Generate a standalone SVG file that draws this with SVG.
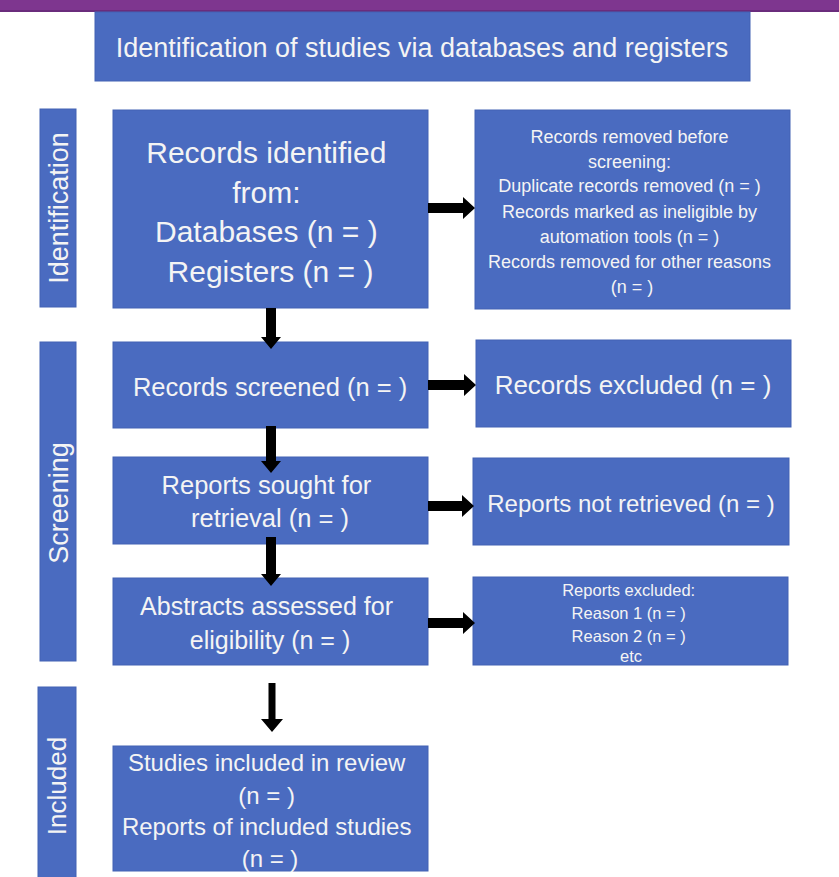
<svg xmlns="http://www.w3.org/2000/svg" width="839" height="877" viewBox="0 0 839 877">
  <style>
    .box { fill: #4A6BC0; stroke: #4262B4; stroke-width: 1; }
    .t { font-family: "Liberation Sans", Arial, sans-serif; fill: #F4F4F4; text-anchor: middle; }
    .arr { fill: #000000; }
  </style>
  <rect x="0" y="0" width="839" height="877" fill="#FFFFFF"/>
  <rect x="0" y="0" width="839" height="12" fill="#7E368F"/>
  <rect x="0" y="10" width="839" height="2" fill="#6A2C7C"/>

  <g id="title">
    <rect class="box" x="95" y="12" width="655" height="69"/>
    <text class="t" x="422" y="56.5" font-size="27">Identification of studies via databases and registers</text>
  </g>

  <g id="label-identification">
    <rect class="box" x="40" y="109" width="36" height="198"/>
    <text class="t" font-size="27" transform="translate(58,208) rotate(-90)" y="9.5">Identification</text>
  </g>
  <g id="label-screening">
    <rect class="box" x="40" y="342" width="36" height="319"/>
    <text class="t" font-size="27" transform="translate(58,503) rotate(-90)" y="9.5">Screening</text>
  </g>
  <g id="label-included">
    <rect class="box" x="38" y="687" width="38" height="195"/>
    <text class="t" font-size="26" transform="translate(57,786) rotate(-90)" y="9">Included</text>
  </g>

  <g id="records-identified">
    <rect class="box" x="113" y="110" width="315" height="198"/>
    <text class="t" font-size="30">
      <tspan x="270.5" y="162.5">Records identified</tspan>
      <tspan x="270.5" y="202.5">from:</tspan>
      <tspan x="270.5" y="241.5">Databases (n = )</tspan>
      <tspan x="270.5" y="281.5">Registers (n = )</tspan>
    </text>
  </g>

  <g id="records-removed">
    <rect class="box" x="475" y="110" width="315" height="199"/>
    <text class="t" font-size="18">
      <tspan x="632" y="143">Records removed before</tspan>
      <tspan x="632" y="168">screening:</tspan>
      <tspan x="632" y="192">Duplicate records removed (n = )</tspan>
      <tspan x="632" y="218">Records marked as ineligible by</tspan>
      <tspan x="632" y="243">automation tools (n = )</tspan>
      <tspan x="632" y="268">Records removed for other reasons</tspan>
      <tspan x="632" y="293">(n = )</tspan>
    </text>
  </g>

  <g id="records-screened">
    <rect class="box" x="113" y="342" width="315" height="86"/>
    <text class="t" font-size="25.5" x="270" y="396">Records screened (n = )</text>
  </g>

  <g id="records-excluded">
    <rect class="box" x="476" y="340" width="315" height="87"/>
    <text class="t" font-size="26" x="633" y="394">Records excluded (n = )</text>
  </g>

  <g id="reports-sought">
    <rect class="box" x="113" y="457" width="315" height="87"/>
    <text class="t" font-size="25.5">
      <tspan x="270" y="494">Reports sought for</tspan>
      <tspan x="270" y="527">retrieval (n = )</tspan>
    </text>
  </g>

  <g id="reports-not-retrieved">
    <rect class="box" x="473" y="458" width="316" height="87"/>
    <text class="t" font-size="24" x="631" y="511.5">Reports not retrieved (n = )</text>
  </g>

  <g id="abstracts-assessed">
    <rect class="box" x="113" y="578" width="315" height="87"/>
    <text class="t" font-size="25">
      <tspan x="270" y="615">Abstracts assessed for</tspan>
      <tspan x="270" y="649">eligibility (n = )</tspan>
    </text>
  </g>

  <g id="reports-excluded">
    <rect class="box" x="473" y="577" width="315" height="88"/>
    <text class="t" font-size="16.5">
      <tspan x="631" y="596">Reports excluded:</tspan>
      <tspan x="631" y="619">Reason 1 (n = )</tspan>
      <tspan x="631" y="642">Reason 2 (n = )</tspan>
      <tspan x="631" y="662">etc</tspan>
    </text>
  </g>

  <g id="studies-included">
    <rect class="box" x="113" y="746" width="315" height="125"/>
    <text class="t" font-size="24">
      <tspan x="270" y="770.5">Studies included in review</tspan>
      <tspan x="270" y="803.5">(n = )</tspan>
      <tspan x="270" y="834.5">Reports of included studies</tspan>
      <tspan x="270" y="866.5">(n = )</tspan>
    </text>
  </g>

  <g id="connectors">
    <!-- horizontal arrows -->
    <polygon class="arr" points="428,203 463,203 463,197 475,208 463,219 463,213 428,213"/>
    <polygon class="arr" points="428,380 464,380 464,374 476,385 464,396 464,390 428,390"/>
    <polygon class="arr" points="428,501 462,501 462,495 474,506 462,517 462,511 428,511"/>
    <polygon class="arr" points="428,618 463,618 463,612 475,623 463,634 463,628 428,628"/>
    <!-- vertical arrows -->
    <polygon class="arr" points="266,308 276,308 276,337 281,337 271,349 261,337 266,337"/>
    <polygon class="arr" points="266,426 276,426 276,461 281,461 271,473 261,461 266,461"/>
    <polygon class="arr" points="266,537 276,537 276,574 281,574 271,586 261,574 266,574"/>
    <polygon class="arr" points="268.5,683 275.5,683 275.5,719 283,719 272,732 261,719 268.5,719"/>
  </g>
</svg>
